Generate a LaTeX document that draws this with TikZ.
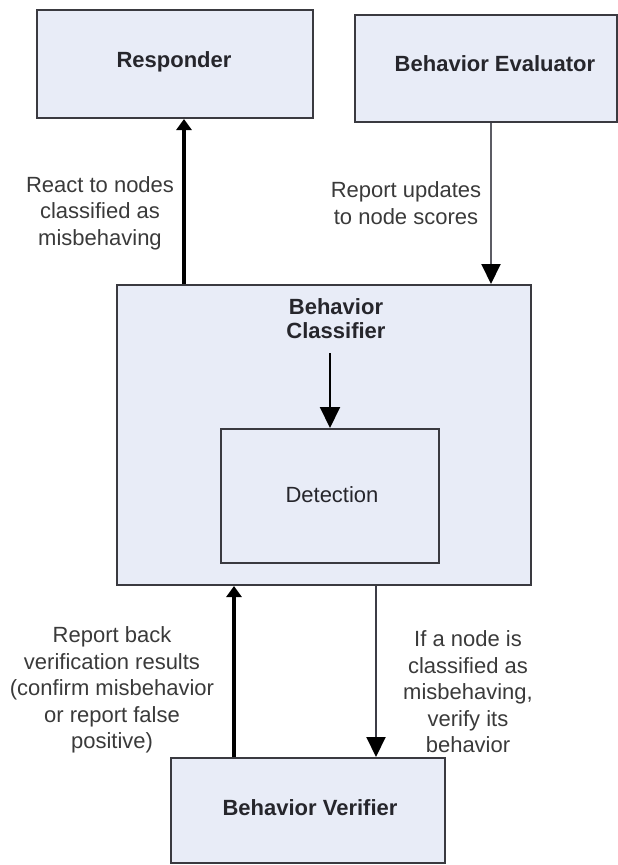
\documentclass[tikz,border=0pt]{standalone}
\usepackage{fontspec}
\setmainfont{Liberation Sans}
\usetikzlibrary{arrows.meta}

\definecolor{boxfill}{RGB}{232,236,247}
\definecolor{boxline}{RGB}{58,58,64}
\definecolor{titletext}{RGB}{38,38,44}
\definecolor{notetext}{RGB}{58,58,58}
\definecolor{thinline}{RGB}{92,92,100}
\definecolor{darkline}{RGB}{60,60,70}

\begin{document}
\begin{tikzpicture}[x=1pt,y=-1pt,
  block/.style={draw=boxline, line width=2pt, fill=boxfill, inner sep=0pt},
  boxtitle/.style={font=\bfseries\fontsize{22}{24}\selectfont, text=titletext, align=center, inner sep=0pt},
  plaintitle/.style={font=\fontsize{22}{24}\selectfont, text=titletext, inner sep=0pt},
  note/.style={font=\fontsize{22}{26.5}\selectfont, text=notetext, align=center, inner sep=0pt},
  heavy/.style={line width=3.5pt, draw=black, -{Triangle[length=11pt,width=15pt]}},
  light/.style={line width=2pt, -{Triangle[length=20pt,width=19pt,color=black]}},
  inner/.style={line width=2pt, draw=black, -{Triangle[length=21pt,width=20pt]}},
]
\useasboundingbox (0,0) rectangle (618,865);

% boxes
\node[block, minimum width=276pt, minimum height=108pt] (responder) at (175,64) {};
\node[boxtitle] (respondertitle) at (174,62) {Responder};

\node[block, minimum width=262pt, minimum height=107pt] (evaluator) at (486,68.5) {};
\node[boxtitle] (evaluatortitle) at (495,64) {Behavior Evaluator};

\node[block, minimum width=414pt, minimum height=300pt] (classifier) at (324,435) {};
\node[boxtitle] (classifiertitle) at (336,319) {Behavior\\Classifier};

\node[block, minimum width=218pt, minimum height=134pt] (detection) at (330,496) {};
\node[plaintitle] (detectiontitle) at (332,495) {Detection};

\node[block, minimum width=274pt, minimum height=105pt] (verifier) at (308,810.5) {};
\node[boxtitle] (verifiertitle) at (310,808) {Behavior Verifier};

% columns of the connectors
\coordinate (colA) at (184,0);
\coordinate (colB) at (491,0);
\coordinate (colC) at (234,0);
\coordinate (colD) at (376,0);

% connectors
\draw[heavy] (classifier.north -| colA) -- (responder.south -| colA);
\draw[light, draw=thinline] (evaluator.south -| colB) -- (classifier.north -| colB);
\draw[inner, shorten <=14pt] (classifiertitle.south -| detection.north) -- (detection.north);
\draw[heavy] (verifier.north -| colC) -- (classifier.south -| colC);
\draw[light, draw=darkline] (classifier.south -| colD) -- (verifier.north -| colD);

% connector labels
\node[note] (reactnote) at (100,213) {React to nodes\\classified as\\misbehaving};
\node[note] (updatenote) at (406,203) {Report updates\\to node scores};
\node[note] (backnote) at (112,690) {Report back\\verification results\\(confirm misbehavior\\or report false\\positive)};
\node[note] (verifynote) at (468,692) {If a node is\\classified as\\misbehaving,\\verify its\\behavior};
\end{tikzpicture}
\end{document}
